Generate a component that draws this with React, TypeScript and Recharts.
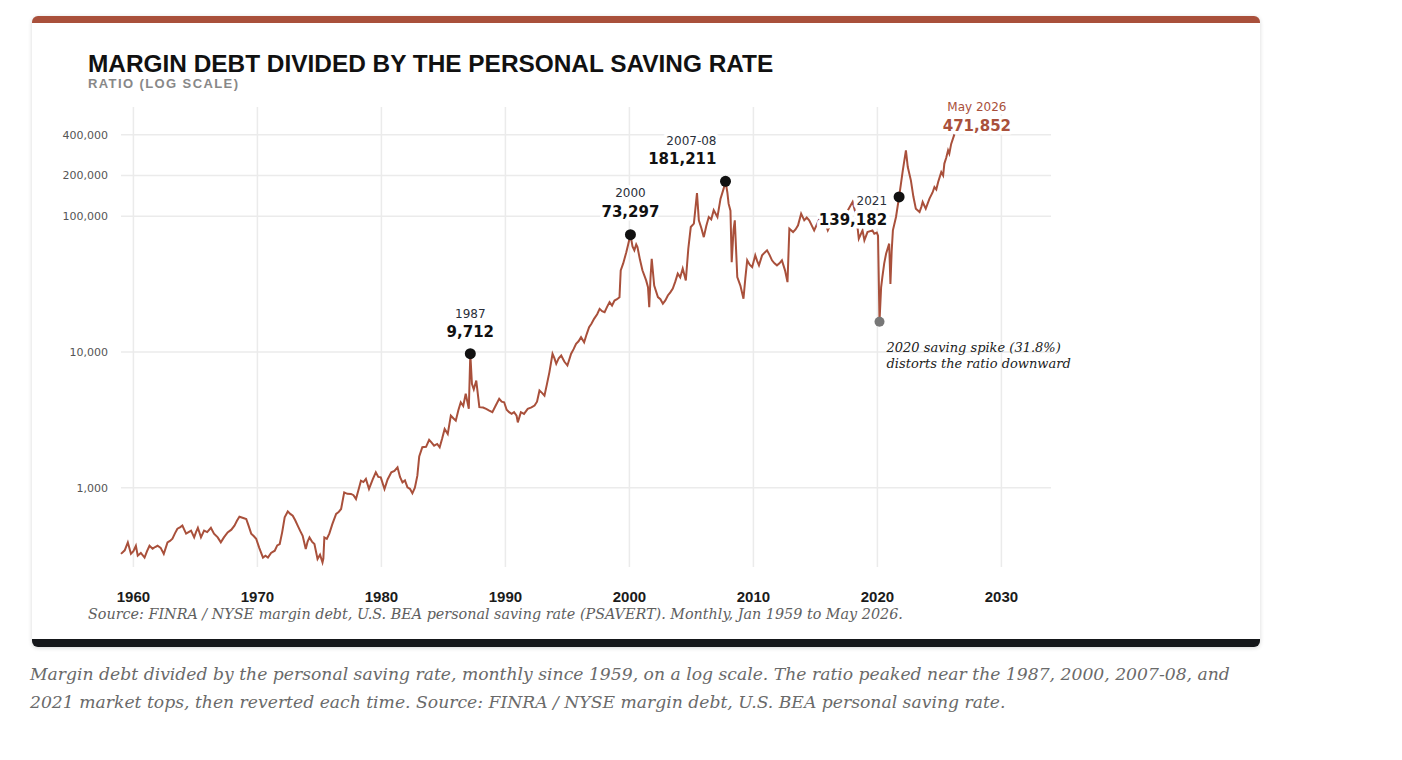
import { ComposedChart, Line, XAxis, YAxis, CartesianGrid } from 'recharts';

const BRICK = '#a9503b';
const SANS = '"Liberation Sans", Arial, sans-serif';
const WIDE = '"DejaVu Sans", Verdana, sans-serif';
const SERIF = '"DejaVu Serif", Georgia, serif';

// margin debt / personal saving rate, [decimal year, ratio]
const ratio1960s: [number, number][] = [
  [1959.0, 325], [1959.3, 345], [1959.55, 395], [1959.8, 325], [1960.0, 340], [1960.2, 373],
  [1960.35, 315], [1960.6, 330], [1960.9, 305], [1961.1, 340], [1961.3, 373], [1961.55, 355],
  [1961.75, 365], [1961.95, 373], [1962.2, 360], [1962.45, 325], [1962.75, 395], [1962.95, 405],
  [1963.15, 420], [1963.35, 460], [1963.55, 498], [1963.75, 510], [1963.95, 525], [1964.1, 490],
  [1964.25, 458], [1964.45, 470], [1964.65, 482], [1964.9, 430], [1965.05, 470], [1965.2, 506],
  [1965.45, 430], [1965.7, 482], [1965.95, 470], [1966.25, 506], [1966.5, 458], [1966.8, 430],
  [1967.05, 395], [1967.3, 430], [1967.6, 468], [1967.9, 490], [1968.15, 525], [1968.35, 570],
  [1968.55, 610], [1968.8, 600], [1969.1, 587], [1969.3, 520], [1969.5, 458], [1969.7, 440],
  [1969.9, 420],
];

const ratio1970s: [number, number][] = [
  [1970.15, 360], [1970.45, 305], [1970.65, 315], [1970.85, 305], [1971.1, 330], [1971.4, 343],
  [1971.6, 375], [1971.8, 384], [1972.0, 470], [1972.2, 604], [1972.45, 668], [1972.65, 640],
  [1972.85, 621], [1973.05, 575], [1973.25, 525], [1973.45, 480], [1973.65, 442], [1973.9, 353],
  [1974.05, 400], [1974.2, 430], [1974.4, 400], [1974.6, 384], [1974.85, 298], [1975.05, 320],
  [1975.25, 281], [1975.32, 300], [1975.4, 430], [1975.6, 420], [1975.8, 458], [1976.05, 540],
  [1976.35, 640], [1976.55, 660], [1976.75, 696], [1977.0, 923], [1977.25, 900], [1977.55, 899],
  [1977.75, 880], [1977.95, 825], [1978.15, 960], [1978.35, 1126], [1978.55, 1100], [1978.75, 1159],
  [1979.0, 978], [1979.3, 1150], [1979.55, 1297], [1979.75, 1200], [1979.95, 1191],
];

const ratio1980s: [number, number][] = [
  [1980.25, 978], [1980.5, 1150], [1980.8, 1297], [1981.05, 1330], [1981.3, 1412], [1981.5, 1200],
  [1981.7, 1094], [1981.9, 1130], [1982.1, 1005], [1982.3, 980], [1982.5, 908], [1982.7, 1000],
  [1982.9, 1226], [1983.05, 1700], [1983.3, 1984], [1983.6, 2000], [1983.85, 2250], [1984.05, 2150],
  [1984.25, 2040], [1984.5, 2100], [1984.7, 1984], [1984.9, 2300], [1985.1, 2710], [1985.35, 2490],
  [1985.6, 3400], [1985.8, 3250], [1986.0, 3120], [1986.2, 3700], [1986.4, 4260], [1986.6, 4000],
  [1986.8, 4920], [1987.05, 3810], [1987.17, 9712], [1987.3, 5820], [1987.45, 5300], [1987.65, 6160],
  [1987.9, 3920], [1988.2, 3900], [1988.45, 3810], [1988.7, 3700], [1988.95, 3600], [1989.2, 4000],
  [1989.5, 4520], [1989.7, 4300], [1989.9, 4260],
];

const ratio1990s: [number, number][] = [
  [1990.1, 3750], [1990.3, 3600], [1990.5, 3500], [1990.7, 3600], [1990.9, 3400], [1991.0, 3030],
  [1991.25, 3600], [1991.5, 3500], [1991.8, 3810], [1992.1, 3900], [1992.35, 4030], [1992.55, 4300],
  [1992.75, 5200], [1992.95, 5000], [1993.15, 4770], [1993.35, 5800], [1993.55, 7110], [1993.8, 9700],
  [1993.95, 9000], [1994.1, 8180], [1994.3, 9000], [1994.5, 9420], [1994.75, 8500], [1995.0, 7950],
  [1995.3, 9712], [1995.5, 10500], [1995.7, 11500], [1995.9, 12000], [1996.1, 12850], [1996.35, 11800],
  [1996.55, 13500], [1996.75, 15230], [1996.95, 16200], [1997.15, 17550], [1997.4, 19000], [1997.6, 20800],
  [1997.8, 20000], [1998.0, 19650], [1998.2, 21500], [1998.4, 23330], [1998.6, 22000], [1998.8, 23950],
  [1999.0, 24500], [1999.2, 25340], [1999.3, 39900], [1999.5, 45000], [1999.75, 54400], [1999.9, 62000],
];

const ratio2000s: [number, number][] = [
  [2000.083, 73297], [2000.25, 60000], [2000.4, 56150], [2000.55, 62000], [2000.65, 59400],
  [2000.85, 48000], [2001.05, 40000], [2001.35, 33700], [2001.5, 30000], [2001.6, 21400],
  [2001.7, 35000], [2001.8, 48700], [2002.0, 30900], [2002.3, 25400], [2002.5, 24500],
  [2002.7, 22700], [2002.9, 24000], [2003.1, 26100], [2003.3, 27500], [2003.5, 29300],
  [2003.7, 33000], [2003.9, 37800], [2004.1, 35500], [2004.3, 41200], [2004.55, 33700],
  [2004.75, 57700], [2004.95, 83400], [2005.2, 88300], [2005.45, 148600], [2005.6, 93500],
  [2005.8, 82000], [2006.0, 70300], [2006.2, 85000], [2006.4, 98900], [2006.6, 95000],
  [2006.8, 111000], [2007.1, 98900], [2007.35, 135000], [2007.6, 160000], [2007.75, 181211],
  [2007.9, 150000], [2008.0, 124000], [2008.15, 110000], [2008.25, 45950], [2008.4, 80000],
  [2008.5, 93500], [2008.7, 35700], [2008.95, 30900], [2009.2, 24700], [2009.35, 35000],
  [2009.5, 47400], [2009.7, 44000], [2009.9, 42200],
];

const ratio2010s: [number, number][] = [
  [2010.15, 51600], [2010.3, 47000], [2010.45, 43500], [2010.7, 51600], [2010.9, 54000],
  [2011.1, 56150], [2011.3, 52000], [2011.5, 47400], [2011.7, 45000], [2011.9, 43500],
  [2012.1, 45000], [2012.3, 47400], [2012.55, 40000], [2012.75, 32750], [2012.9, 81150],
  [2013.2, 76600], [2013.4, 80000], [2013.6, 85800], [2013.85, 104700], [2014.1, 93500],
  [2014.3, 98000], [2014.5, 93500], [2014.9, 78800], [2015.3, 95000], [2015.6, 100000],
  [2016.0, 78800], [2016.4, 95000], [2016.8, 100000], [2017.2, 105000], [2017.6, 110000],
  [2018.0, 128000], [2018.3, 100000], [2018.5, 68500], [2018.8, 78800], [2018.95, 66500],
  [2019.2, 76600], [2019.6, 78800], [2019.75, 74500], [2019.95, 76000],
];

const ratio2020s: [number, number][] = [
  [2020.05, 72000], [2020.17, 16700], [2020.3, 30000], [2020.4, 35700], [2020.55, 45000],
  [2020.7, 53000], [2020.95, 62900], [2021.05, 31800], [2021.15, 55000], [2021.25, 78800],
  [2021.5, 98900], [2021.75, 139182], [2022.05, 218000], [2022.3, 306900], [2022.45, 231000],
  [2022.7, 184200], [2022.9, 140000], [2023.1, 114000], [2023.4, 107600], [2023.55, 118000],
  [2023.65, 127600], [2023.9, 114000], [2024.2, 135000], [2024.45, 150000], [2024.6, 164500],
  [2024.75, 158000], [2024.9, 179000], [2025.15, 212000], [2025.3, 200000], [2025.4, 245000],
  [2025.55, 270000], [2025.7, 306900], [2025.8, 290000], [2025.95, 342000], [2026.2, 400000],
  [2026.33, 471852],
];

const series = [
  ...ratio1960s, ...ratio1970s, ...ratio1980s, ...ratio1990s, ...ratio2000s, ...ratio2010s, ...ratio2020s,
].map(([year, value]) => ({ year, value }));

// market-top markers
const peakYears = [1987.17, 2000.083, 2007.75, 2021.75];
const peakValues = [9712, 73297, 181211, 139182];
const peakTags = ['1987', '2000', '2007-08', '2021'];
const peaks = peakYears.map((year, i) => ({ year, value: peakValues[i], tag: peakTags[i] }));

// pandemic saving spike and latest reading
const dip = [{ year: 2020.17, value: 16700 }];
const latest = [{ year: 2026.33, value: 471852, tag: 'May 2026' }];

const yearTicks = [1960, 1970, 1980, 1990, 2000, 2010, 2020, 2030];
const ratioTicks = [1000, 10000, 100000, 200000, 400000];

const fmt = (v: number) => v.toLocaleString('en-US');

const peakLayout: Record<string, { anchor: 'middle' | 'end'; dx: number; tagDy: number; valueDy: number }> = {
  '1987': { anchor: 'middle', dx: 0, tagDy: -36, valueDy: -17 },
  '2000': { anchor: 'middle', dx: 0, tagDy: -38, valueDy: -18 },
  '2007-08': { anchor: 'end', dx: -9, tagDy: -36, valueDy: -17 },
  '2021': { anchor: 'end', dx: -12, tagDy: 8, valueDy: 28 },
};

const halo = { stroke: '#fff', strokeWidth: 7, strokeLinejoin: 'round' as const, paintOrder: 'stroke' as const };

function renderPeak(props: any) {
  const { cx, cy, payload, index } = props;
  if (cx == null || cy == null) return <g key={`p-${index}`} />;
  const lay = peakLayout[payload.tag];
  return (
    <g key={`p-${index}`}>
      <circle cx={cx} cy={cy} r={5.5} fill="#111" />
      <text x={cx + lay.dx} y={cy + lay.tagDy} textAnchor={lay.anchor} fontFamily={WIDE} fontSize={12} fill="#2a2f3a" {...halo}>
        {payload.tag}
      </text>
      <text x={cx + lay.dx} y={cy + lay.valueDy} textAnchor={lay.anchor} fontFamily={WIDE} fontWeight={700} fontSize={15} fill="#111" {...halo}>
        {fmt(payload.value)}
      </text>
    </g>
  );
}

function renderDip(props: any) {
  const { cx, cy, index } = props;
  if (cx == null || cy == null) return <g key={`d-${index}`} />;
  return (
    <g key={`d-${index}`}>
      <circle cx={cx} cy={cy} r={5} fill="#777" />
      <text x={cx + 7} y={cy + 30} fontFamily={SERIF} fontStyle="italic" fontSize={13} fill="#222">
        2020 saving spike (31.8%)
      </text>
      <text x={cx + 7} y={cy + 46} fontFamily={SERIF} fontStyle="italic" fontSize={13} fill="#222">
        distorts the ratio downward
      </text>
    </g>
  );
}

function renderLatest(props: any) {
  const { cx, cy, payload, index } = props;
  if (cx == null || cy == null) return <g key={`l-${index}`} />;
  return (
    <g key={`l-${index}`}>
      <text x={cx + 21} y={cy - 14} textAnchor="middle" fontFamily={WIDE} fontSize={12} fill={BRICK} {...halo}>
        {payload.tag}
      </text>
      <text x={cx + 21} y={cy + 6} textAnchor="middle" fontFamily={WIDE} fontWeight={700} fontSize={15} fill={BRICK} {...halo}>
        {fmt(payload.value)}
      </text>
    </g>
  );
}

export default function App() {
  return (
    <div style={{ position: 'absolute', left: 0, top: 0, width: 1402, height: 760, background: '#fff' }}>
      <div
        style={{
          position: 'absolute',
          left: 32,
          top: 16,
          width: 1228,
          height: 631,
          boxSizing: 'border-box',
          background: '#fff',
          borderTop: `7px solid ${BRICK}`,
          borderBottom: '8px solid #15171a',
          borderRadius: 6,
          boxShadow: '0 1px 4px rgba(0,0,0,0.16)',
        }}
      />
      <div style={{ position: 'absolute', left: 32, top: 90 }}>
        <ComposedChart width={1228} height={530} margin={{ top: 17, right: 209, bottom: 13, left: 0 }}>
          <CartesianGrid stroke="#ebebeb" strokeWidth={1.5} syncWithTicks />
          <XAxis
            type="number"
            dataKey="year"
            domain={[1959, 2034]}
            ticks={yearTicks}
            interval={0}
            height={40}
            tickLine={false}
            axisLine={false}
            tickSize={0}
            tickMargin={24}
            tick={{ fontSize: 15, fontWeight: 700, fill: '#1b1b1b', fontFamily: SANS }}
          />
          <YAxis
            type="number"
            scale="log"
            domain={[260, 640000]}
            ticks={ratioTicks}
            width={89}
            tickLine={false}
            axisLine={false}
            tickSize={0}
            tickMargin={13}
            tickFormatter={fmt}
            tick={{ fontSize: 11, fill: '#555', fontFamily: WIDE }}
          />
          <Line
            data={series}
            dataKey="value"
            type="linear"
            stroke={BRICK}
            strokeWidth={2}
            dot={false}
            activeDot={false}
            isAnimationActive={false}
          />
          <Line data={dip} dataKey="value" stroke="none" dot={renderDip} activeDot={false} isAnimationActive={false} />
          <Line data={peaks} dataKey="value" stroke="none" dot={renderPeak} activeDot={false} isAnimationActive={false} />
          <Line data={latest} dataKey="value" stroke="none" dot={renderLatest} activeDot={false} isAnimationActive={false} />
        </ComposedChart>
      </div>
      <svg width={1402} height={760} style={{ position: 'absolute', left: 0, top: 0, pointerEvents: 'none' }}>
        <text x={88} y={72} fontFamily={SANS} fontWeight={700} fontSize={24.4} fill="#111">
          MARGIN DEBT DIVIDED BY THE PERSONAL SAVING RATE
        </text>
        <text x={88} y={88} fontFamily={SANS} fontWeight={700} fontSize={13} letterSpacing={1.4} fill="#888">
          RATIO (LOG SCALE)
        </text>
        <text x={88} y={619} fontFamily={SERIF} fontStyle="italic" fontSize={14.35} fill="#5e5e5e">
          Source: FINRA / NYSE margin debt, U.S. BEA personal saving rate (PSAVERT). Monthly, Jan 1959 to May 2026.
        </text>
        <text x={30} y={680} fontFamily={SERIF} fontStyle="italic" fontSize={17.2} fill="#6a6a6a">
          Margin debt divided by the personal saving rate, monthly since 1959, on a log scale. The ratio peaked near the 1987, 2000, 2007-08, and
        </text>
        <text x={30} y={708} fontFamily={SERIF} fontStyle="italic" fontSize={17.2} fill="#6a6a6a">
          2021 market tops, then reverted each time. Source: FINRA / NYSE margin debt, U.S. BEA personal saving rate.
        </text>
      </svg>
    </div>
  );
}
